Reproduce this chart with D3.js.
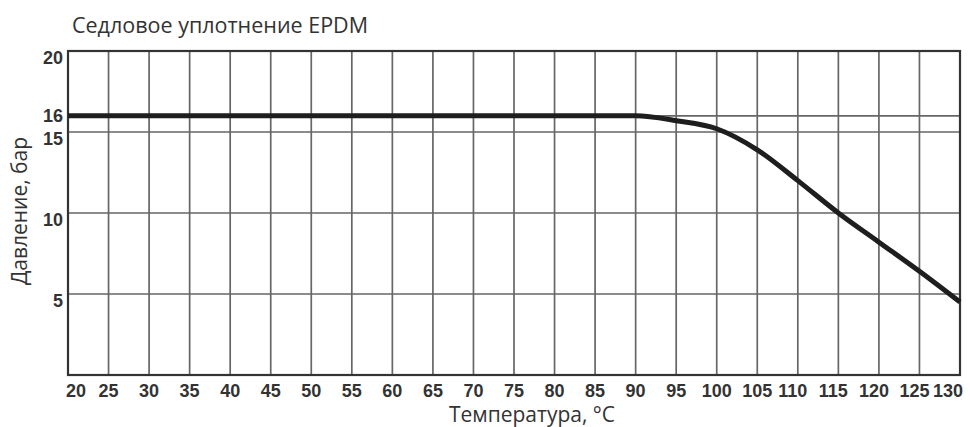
<!DOCTYPE html>
<html>
<head>
<meta charset="utf-8">
<script src="https://cdn.jsdelivr.net/npm/d3@7"></script>
<style>
  body { margin: 0; background: #fff; }
  svg { display: block; }
</style>
</head>
<body>
<svg id="chart" width="970" height="427"></svg>
<script>
// pressure vs temperature curve
const temps = [20, 90, 95, 100, 105, 110, 115, 120, 125, 130];
const pressures = [16, 16, 15.7, 15.2, 13.9, 12.0, 10.0, 8.2, 6.4, 4.5];

const xTicks = [20, 25, 30, 35, 40, 45, 50, 55, 60, 65, 70, 75, 80, 85, 90, 95, 100, 105, 110, 115, 120, 125, 130];
const yTicks = [5, 10, 15, 16, 20];

const title = "Седловое уплотнение EPDM";
const xTitle = "Температура, °C";
const yTitle = "Давление, бар";

const svg = d3.select("#chart");
const margin = { top: 51, right: 10, bottom: 52, left: 68 };
const width = 970, height = 427;

const x = d3.scaleLinear().domain([20, 130]).range([margin.left, width - margin.right]);
const y = d3.scaleLinear().domain([0, 20]).range([height - margin.bottom, margin.top]);

const tickFont = "'Liberation Sans', Arial, sans-serif";
const titleFont = "'Open Sans', sans-serif";

// vertical grid
svg.append("g")
    .selectAll("line")
    .data(xTicks.slice(1, -1))
    .join("line")
    .attr("x1", d => x(d)).attr("x2", d => x(d))
    .attr("y1", y(20)).attr("y2", y(0))
    .attr("stroke", "#666")
    .attr("stroke-width", 1.7);

// horizontal grid
svg.append("g")
    .selectAll("line")
    .data(yTicks.filter(d => d < 20))
    .join("line")
    .attr("x1", x(20)).attr("x2", x(130))
    .attr("y1", d => y(d)).attr("y2", d => y(d))
    .attr("stroke", "#666")
    .attr("stroke-width", 1.7);

// frame
svg.append("rect")
    .attr("x", x(20)).attr("y", y(20))
    .attr("width", x(130) - x(20))
    .attr("height", y(0) - y(20))
    .attr("fill", "none")
    .attr("stroke", "#333")
    .attr("stroke-width", 2.2);

// curve
const line = d3.line()
    .x((d, i) => x(temps[i]))
    .y(d => y(d))
    .curve(d3.curveMonotoneX);

svg.append("path")
    .datum(pressures)
    .attr("d", line)
    .attr("fill", "none")
    .attr("stroke", "#1e1e1e")
    .attr("stroke-width", 5)
    .attr("stroke-linejoin", "round");

// x tick labels (first and last kept inside the frame edges, crowded right end nudged left)
const lastX = xTicks.length - 1;
svg.append("g")
    .selectAll("text")
    .data(xTicks)
    .join("text")
    .attr("x", (d, i) => {
        if (i === 0) return x(d) - 2;
        if (i === lastX) return x(d) + 3;
        if (d >= 110) return x(d) - 5;
        return x(d);
    })
    .attr("y", y(0) + 22)
    .attr("text-anchor", (d, i) => i === 0 ? "start" : i === lastX ? "end" : "middle")
    .attr("font-family", tickFont)
    .attr("font-weight", "bold")
    .attr("font-size", 18)
    .attr("fill", "#333")
    .text(d => d);

// y tick labels
svg.append("g")
    .selectAll("text")
    .data(yTicks)
    .join("text")
    .attr("x", x(20) - 5)
    .attr("y", d => d === 16 ? y(d) + 6 : y(d) + 13)
    .attr("text-anchor", "end")
    .attr("font-family", tickFont)
    .attr("font-weight", "bold")
    .attr("font-size", 18)
    .attr("fill", "#333")
    .text(d => d);

// titles
svg.append("text")
    .attr("x", 72)
    .attr("y", 33)
    .attr("font-family", titleFont)
    .attr("font-size", 21.5)
    .attr("fill", "#333")
    .text(title);

svg.append("text")
    .attr("x", 532)
    .attr("y", 422)
    .attr("text-anchor", "middle")
    .attr("font-family", titleFont)
    .attr("font-size", 21)
    .attr("fill", "#333")
    .text(xTitle);

svg.append("text")
    .attr("transform", "translate(27,211) rotate(-90)")
    .attr("text-anchor", "middle")
    .attr("font-family", titleFont)
    .attr("font-size", 21)
    .attr("fill", "#333")
    .text(yTitle);
</script>
</body>
</html>
